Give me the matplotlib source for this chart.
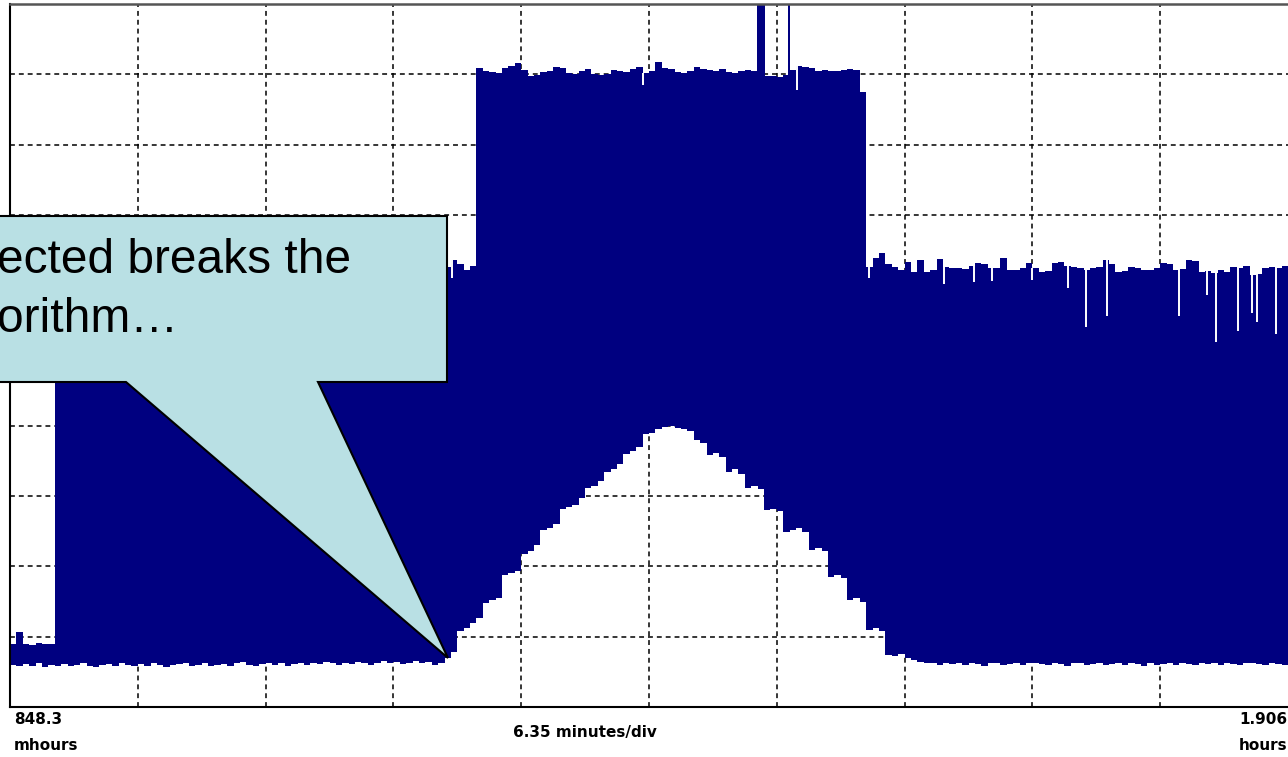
import matplotlib.pyplot as plt
import numpy as np
from matplotlib.patches import Polygon

W, H = 1288, 757
NAVY = '#000080'
CALLOUT = '#B9E0E4'

# sample spacing of the trace, in screen divisions
step = 0.05

# upper envelope of the trace (divisions above the bottom edge)
upper = [
    0.89, 1.06, 0.90, 0.88, 0.91, 0.89, 0.90,
    6.28, 6.31, 6.25, 6.33, 6.27, 6.22, 6.30, 6.35, 6.26, 6.24,
    6.29, 6.32, 6.27, 6.21, 6.30, 6.34, 6.28, 6.25, 6.31, 6.27,
    6.23, 6.30, 6.36, 6.28, 6.24, 6.29, 6.31, 6.26, 6.22, 6.30,
    6.33, 6.27, 6.25, 6.31, 6.28, 6.24, 6.30, 6.35, 6.27, 6.23,
    6.29, 6.32, 6.26, 6.24, 6.30, 6.28, 6.25, 6.33, 6.29, 6.22,
    6.27, 6.31, 6.26, 6.30, 6.34, 6.25, 6.28, 6.24, 6.31, 6.27,
    6.29, 6.26,
    6.36, 6.30, 6.22, 6.28,
    9.09, 9.05, 9.03, 9.02, 9.09, 9.12, 9.16, 9.06, 8.98, 8.99,
    9.03, 9.04, 9.10, 9.09, 9.02, 9.01, 9.04, 9.08, 9.00, 8.99,
    9.01, 9.06, 9.05, 9.03, 9.08, 9.10, 9.02, 9.04, 9.17, 9.09,
    9.07, 9.03, 9.02, 9.04, 9.10, 9.08, 9.06, 9.05, 9.07, 9.03,
    9.02, 9.04, 9.06, 9.05, 9.00, 8.97, 8.98, 8.96, 8.99, 9.06,
    9.12, 9.10, 9.09, 9.05, 9.06, 9.04, 9.05, 9.06, 9.08, 9.06,
    8.75,
    6.26, 6.39, 6.46, 6.30, 6.26, 6.22, 6.33, 6.19, 6.36, 6.19,
    6.22, 6.37, 6.26, 6.24, 6.25, 6.23, 6.27, 6.31, 6.30, 6.24,
    6.25, 6.39, 6.22, 6.21, 6.24, 6.31, 6.25, 6.19, 6.20, 6.32,
    6.33, 6.28, 6.26, 6.25, 6.22, 6.24, 6.26, 6.36, 6.30, 6.19,
    6.20, 6.26, 6.25, 6.22, 6.21, 6.24, 6.31, 6.30, 6.22, 6.23,
    6.36, 6.34, 6.19, 6.20, 6.18, 6.21, 6.19, 6.26, 6.25, 6.28,
    6.15, 6.16, 6.24, 6.26, 6.24, 6.27,
]

# lower envelope of the trace
lower = [
    0.60, 0.58, 0.61, 0.59, 0.62, 0.57, 0.60, 0.59, 0.61, 0.58,
    0.60, 0.62, 0.58, 0.57, 0.60, 0.61, 0.59, 0.63, 0.60, 0.58,
    0.61, 0.59, 0.62, 0.60, 0.57, 0.60, 0.61, 0.63, 0.59, 0.60,
    0.62, 0.58, 0.60, 0.61, 0.59, 0.62, 0.64, 0.60, 0.59, 0.61,
    0.63, 0.60, 0.62, 0.59, 0.61, 0.63, 0.60, 0.62, 0.61, 0.64,
    0.62, 0.60, 0.63, 0.61, 0.64, 0.62, 0.60, 0.63, 0.65, 0.62,
    0.64, 0.61, 0.63, 0.66, 0.62, 0.64, 0.60, 0.63, 0.70, 0.78,
    1.08, 1.12, 1.20, 1.26, 1.48, 1.52, 1.55, 1.88, 1.90, 1.94,
    2.18, 2.22, 2.30, 2.52, 2.55, 2.60, 2.82, 2.85, 2.88, 2.98,
    3.12, 3.15, 3.22, 3.34, 3.38, 3.45, 3.60, 3.64, 3.70, 3.88,
    3.90, 3.96, 3.98, 4.00, 3.97, 3.95, 3.92, 3.80, 3.76, 3.58,
    3.62, 3.56, 3.34, 3.38, 3.32, 3.11, 3.14, 3.10, 2.80, 2.82,
    2.79, 2.49, 2.52, 2.55, 2.49, 2.23, 2.26, 2.22, 1.85, 1.88,
    1.84, 1.52, 1.55, 1.50, 1.10, 1.12, 1.08, 0.74, 0.72, 0.75,
    0.70, 0.67, 0.64, 0.62, 0.63, 0.60, 0.62, 0.61, 0.63, 0.60,
    0.62, 0.61, 0.59, 0.62, 0.63, 0.60, 0.61, 0.62, 0.60, 0.62,
    0.63, 0.61, 0.60, 0.62, 0.61, 0.59, 0.62, 0.63, 0.60, 0.61,
    0.62, 0.60, 0.61, 0.63, 0.60, 0.62, 0.61, 0.59, 0.62, 0.60,
    0.61, 0.63, 0.60, 0.62, 0.61, 0.60, 0.62, 0.61, 0.63, 0.60,
    0.62, 0.61, 0.60, 0.62, 0.63, 0.61, 0.60, 0.62, 0.61, 0.60,
]

# narrow glitches that shoot off the top of the screen
spike_start = [5.845, 6.088]
spike_end = [5.908, 6.104]
spike_top = [10.5, 10.5]

# short dropouts of the upper envelope
dip_x = [3.46, 4.95, 6.16, 6.72, 7.31, 7.54, 7.68, 8.00, 8.28, 8.42,
         8.58, 9.15, 9.37, 9.44, 9.61, 9.72, 9.76, 9.91]
dip_y = [6.10, 8.85, 8.78, 6.10, 6.02, 6.05, 6.06, 6.07, 5.96, 5.41,
         5.56, 5.56, 5.86, 5.19, 5.35, 5.60, 5.48, 5.31]

start_label = ['848.3', 'mhours']
end_label = ['1.906', 'hours']
scale_label = '6.35 minutes/div'
callout_lines = ['ected breaks the', 'orithm\u2026']


def px(x, y):
    # screen pixel -> figure fraction
    return x / W, 1 - y / H


fig = plt.figure(figsize=(W / 100, H / 100), dpi=100)
ax = fig.add_axes([10 / W, 50 / H, 1278 / W, 703 / H])
ax.set_xlim(0, 10)
ax.set_ylim(0, 10)
ax.set_xticks(np.arange(1, 10))
ax.set_yticks(np.arange(1, 10))
ax.tick_params(length=0, labelbottom=False, labelleft=False)
ax.grid(True, color='black', linestyle=(0, (3.2, 2.6)), linewidth=1.1)
ax.set_axisbelow(True)
for side in ['left', 'bottom']:
    ax.spines[side].set_color('black')
    ax.spines[side].set_linewidth(1.5)
ax.spines['top'].set_color('#555555')
ax.spines['top'].set_linewidth(1.8)
ax.spines['right'].set_visible(False)

x = np.arange(len(lower) + 1) * step
up = np.append(upper, upper[-1])
lo = np.append(lower, lower[-1])
ax.fill_between(x, lo, up, step='post', color=NAVY, linewidth=0, zorder=2)

for a, b, t in zip(spike_start, spike_end, spike_top):
    ax.fill_between([a, b], [8.9, 8.9], [t, t], color=NAVY, linewidth=0, zorder=2)

up_at = np.array(upper)[(np.array(dip_x) / step).astype(int)]
ax.vlines(dip_x, dip_y, up_at, colors='white', linewidth=1.4, zorder=3)

# time labels under the screen
lab = dict(fontsize=11, fontweight='bold', family='DejaVu Sans', va='center')
fig.text(*px(14, 719), start_label[0], ha='left', **lab)
fig.text(*px(14, 746), start_label[1], ha='left', **lab)
fig.text(*px(1287, 719), end_label[0], ha='right', **lab)
fig.text(*px(1287, 746), end_label[1], ha='right', **lab)
fig.text(*px(585, 733), scale_label, ha='center', **lab)

# speech-bubble callout
verts = [px(-10, 216), px(447, 216), px(447, 382), px(318, 382),
         px(448, 658), px(126, 382), px(-10, 382)]
bubble = Polygon(verts, closed=True, facecolor=CALLOUT, edgecolor='black',
                 linewidth=1.5, transform=fig.transFigure, zorder=5)
fig.add_artist(bubble)
fig.text(*px(-3, 273), callout_lines[0], ha='left', va='baseline',
         fontsize=34.5, family='Liberation Sans', zorder=6)
fig.text(*px(-3, 332), callout_lines[1], ha='left', va='baseline',
         fontsize=34.5, family='Liberation Sans', zorder=6)

fig.savefig('out.png', dpi=100)
